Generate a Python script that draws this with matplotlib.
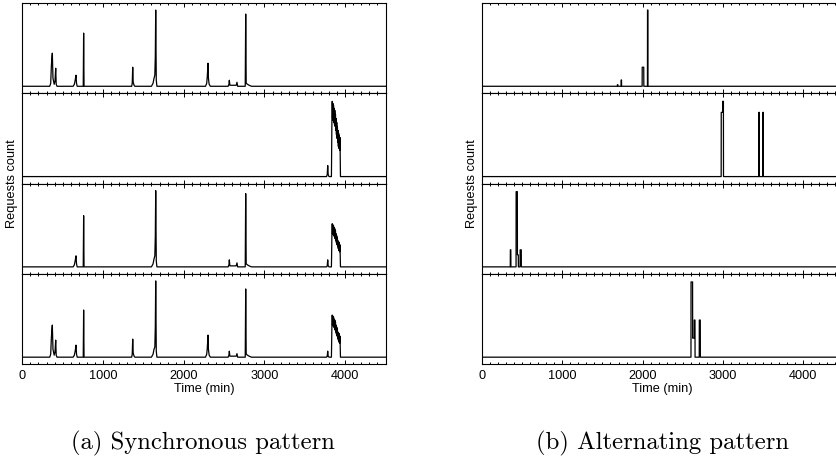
#!/usr/bin/env python
# coding: utf-8
#
import matplotlib
matplotlib.use("Agg")
import matplotlib.pyplot as plt
from matplotlib.ticker import MultipleLocator
from matplotlib.font_manager import FontProperties
#
# Data: request counts per panel (time in minutes, count in relative units)
# (a) synchronous pattern
sync1_t = [0, 340, 352, 360, 366, 372, 380, 395, 405, 414, 420, 430,
           630, 645, 655, 665, 672, 680, 755, 760, 765,
           1355, 1362, 1368, 1374, 1385, 1395,
           1600, 1620, 1632, 1642, 1648, 1653, 1660, 1668,
           2270, 2285, 2292, 2301, 2306, 2315, 2330,
           2550, 2560, 2565, 2572, 2600, 2650, 2660, 2668,
           2762, 2768, 2774, 2790, 2810, 2840, 4500]
sync1_v = [0, 0, 3, 20, 28, 33, 8, 2, 5, 18, 2, 0,
           0, 2, 6, 11, 3, 0, 0, 53, 0,
           0, 3, 19, 4, 1, 0,
           0, 3, 8, 11, 30, 76, 6, 0,
           0, 3, 10, 23, 8, 2, 0,
           0, 2, 6, 1, 1, 1, 4, 0,
           0, 72, 3, 2, 1, 0, 0]

sync2_t = [0, 3770, 3778, 3784, 3790, 3800, 3830, 3836, 3840, 3844, 3848,
           3852, 3856, 3860, 3864, 3868, 3872, 3876, 3880, 3884, 3888, 3892,
           3896, 3900, 3904, 3908, 3912, 3916, 3920, 3924, 3928, 3932, 3936,
           3942, 4500]
sync2_v = [0, 0, 2, 11, 2, 0, 0, 55, 75, 58, 73,
           56, 71, 54, 68, 52, 66, 50, 62, 46, 58, 42,
           54, 38, 50, 34, 46, 30, 43, 28, 41, 26, 39,
           0, 0]

sync3_t = [0, 630, 645, 655, 665, 672, 680, 755, 760, 765,
           1600, 1620, 1632, 1642, 1648, 1653, 1660, 1668,
           2550, 2560, 2565, 2572, 2600, 2650, 2660, 2668,
           2762, 2768, 2774, 2790, 2810, 2840,
           3770, 3778, 3784, 3790, 3800, 3830, 3836, 3840, 3844, 3848,
           3852, 3856, 3860, 3864, 3868, 3872, 3876, 3880, 3884, 3888, 3892,
           3896, 3900, 3904, 3908, 3912, 3916, 3920, 3924, 3928, 3932, 3936,
           3942, 4500]
sync3_v = [0, 0, 2, 6, 11, 3, 0, 0, 51, 0,
           0, 3, 8, 11, 30, 76, 6, 0,
           0, 2, 7, 1, 1, 1, 4, 0,
           0, 73, 3, 2, 1, 0,
           0, 1, 7, 1, 0, 0, 32, 43, 33, 42,
           32, 41, 31, 39, 30, 38, 28, 36, 26, 33, 24,
           31, 22, 29, 20, 26, 18, 25, 16, 24, 15, 22,
           0, 0]

sync4_t = [0, 340, 352, 360, 366, 372, 380, 395, 405, 414, 420, 430,
           630, 645, 655, 665, 672, 680, 755, 760, 765,
           1355, 1362, 1368, 1374, 1385, 1395,
           1600, 1620, 1632, 1642, 1648, 1653, 1660, 1668,
           2270, 2285, 2292, 2301, 2306, 2315, 2330,
           2550, 2560, 2565, 2572, 2600, 2650, 2660, 2668,
           2762, 2768, 2774, 2790, 2810, 2840,
           3770, 3778, 3784, 3790, 3800, 3830, 3836, 3840, 3844, 3848,
           3852, 3856, 3860, 3864, 3868, 3872, 3876, 3880, 3884, 3888, 3892,
           3896, 3900, 3904, 3908, 3912, 3916, 3920, 3924, 3928, 3932, 3936,
           3942, 4500]
sync4_v = [0, 0, 3, 19, 27, 32, 8, 2, 5, 17, 2, 0,
           0, 2, 6, 12, 3, 0, 0, 47, 0,
           0, 3, 18, 4, 1, 0,
           0, 3, 8, 10, 30, 76, 6, 0,
           0, 3, 9, 22, 8, 2, 0,
           0, 2, 6, 1, 1, 1, 3.5, 0,
           0, 68, 3, 2, 1, 0,
           0, 1, 6, 1, 0, 0, 31, 42, 32, 41,
           31, 40, 30, 38, 29, 37, 27, 35, 25, 32, 23,
           30, 21, 28, 19, 25, 17, 24, 15, 23, 14, 21,
           0, 0]

# (b) alternating pattern
alt1_t = [0, 1685, 1686, 1692, 1693, 1732, 1733, 1737, 1738,
          1994, 1995, 2014, 2015, 2060, 2061, 2065, 2066, 4500]
alt1_v = [0, 0, 1.5, 1.5, 0, 0, 6.3, 6.3, 0,
          0, 19, 19, 0, 0, 76, 76, 0, 0]

alt2_t = [0, 2978, 2979, 2996, 2997, 3006, 3007,
          3446, 3447, 3452, 3453, 3496, 3497, 3502, 3503, 4500]
alt2_v = [0, 0, 64, 64, 75, 75, 0,
          0, 64, 64, 0, 0, 64, 64, 0, 0]

alt3_t = [0, 352, 353, 359, 360, 424, 425, 440, 441, 452, 453,
          474, 475, 489, 490, 4500]
alt3_v = [0, 0, 17, 17, 0, 0, 75, 75, 12, 12, 0,
          0, 17, 17, 0, 0]

alt4_t = [0, 2602, 2603, 2622, 2623, 2642, 2643, 2652, 2653,
          2705, 2706, 2718, 2719, 4500]
alt4_v = [0, 0, 75, 75, 19, 19, 37, 37, 0,
          0, 37, 37, 0, 0]

sync_series = [(sync1_t, sync1_v), (sync2_t, sync2_v),
               (sync3_t, sync3_v), (sync4_t, sync4_v)]
alt_series = [(alt1_t, alt1_v), (alt2_t, alt2_v),
              (alt3_t, alt3_v), (alt4_t, alt4_v)]

captions = ['(a) Synchronous pattern', '(b) Alternating pattern']

#
# Plotting
W, H = 836, 459
fig = plt.figure(figsize=(W / 100, H / 100), dpi=100)
sans = FontProperties(family=['Liberation Sans', 'DejaVu Sans'],
                      stretch='normal', size=9.2)

group_left = [22.3, 482.0]
group_width = [363.2, 361.4]
panel_top, panel_h = 3.0, 90.3

for g, series in enumerate([sync_series, alt_series]):
    for i, (t, v) in enumerate(series):
        top = panel_top + i * panel_h
        ax = fig.add_axes([group_left[g] / W, 1 - (top + panel_h) / H,
                           group_width[g] / W, panel_h / H])
        ax.plot(t, v, color='black', lw=0.9)
        ax.set_xlim(0, 4500)
        ax.set_ylim(-7, 83)
        ax.set_yticks([])
        ax.xaxis.set_major_locator(MultipleLocator(1000))
        ax.xaxis.set_minor_locator(MultipleLocator(100))
        ax.tick_params(axis='x', which='both', direction='in', top=True,
                       bottom=True, width=0.7, pad=4.5)
        ax.tick_params(axis='x', which='major', length=3)
        ax.tick_params(axis='x', which='minor', length=1.6)
        for s in ax.spines.values():
            s.set_linewidth(0.8)
        if i < 3:
            ax.set_xticklabels([])
        else:
            for lab in ax.get_xticklabels():
                lab.set_fontproperties(sans)
            ax.set_xlabel('Time (min)', fontproperties=sans, labelpad=0.5)

    # y label centred on the stack of panels
    fig.text((group_left[g] - 10) / W, 1 - 184 / H, 'Requests count',
             rotation=90, ha='center', va='center', fontproperties=sans)
    fig.text((group_left[g] + 180.5) / W, 1 - 443 / H, captions[g],
             ha='center', va='center', fontsize=17.8, family='cmr10')

fig.savefig('out.png', dpi=100)
